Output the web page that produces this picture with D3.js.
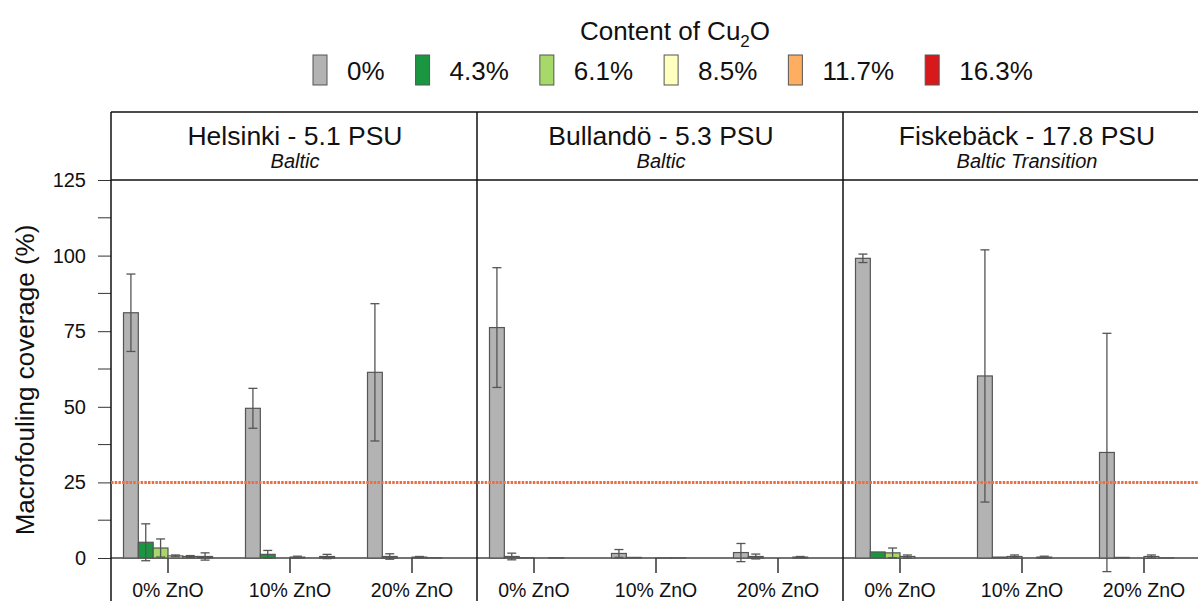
<!DOCTYPE html>
<meta charset="utf-8">
<script src="https://d3js.org/d3.v7.min.js"></script>
<style>
  body { margin: 0; background: #fff; }
  svg { font-family: "Liberation Sans", Arial, sans-serif; display: block; }
</style>
<body>
<div id="chart"></div>
<script>

// chart data
var sites = ["Helsinki - 5.1 PSU", "Bullandö - 5.3 PSU", "Fiskebäck - 17.8 PSU"];
var regions = ["Baltic", "Baltic", "Baltic Transition"];
var znoLevels = ["0% ZnO", "10% ZnO", "20% ZnO"];
var cuLevels = ["0%", "4.3%", "6.1%", "8.5%", "11.7%", "16.3%"];
var cuColors = ["#b3b3b3", "#1a9641", "#a6d96a", "#ffffbf", "#fdae61", "#d7191c"];
var yTicks = [0, 25, 50, 75, 100, 125];
var threshold = 25;

// mean coverage per site -> ZnO level -> Cu2O level
var helsinkiMean = [[81.1, 5.2, 3.3, 0.7, 0.5, 0.5], [49.5, 1.2, 0, 0.3, 0, 0.5], [61.4, 0.5, 0, 0.3, 0.1, 0]];
var helsinkiSd   = [[12.8, 6.1, 3.0, 0.3, 0.3, 1.2], [6.6, 1.3, 0, 0.3, 0, 0.7], [22.7, 0.9, 0, 0.2, 0, 0]];
var bullandoMean = [[76.2, 0.5, 0.1, 0, 0.1, 0], [1.5, 0.2, 0, 0.05, 0.05, 0], [1.8, 0.5, 0, 0, 0.3, 0]];
var bullandoSd   = [[19.8, 1.1, 0, 0, 0, 0], [1.3, 0, 0, 0, 0, 0], [3.0, 0.8, 0, 0, 0.2, 0]];
var fiskebackMean = [[99.1, 2.0, 1.7, 0.5, 0, 0], [60.2, 0.3, 0.5, 0, 0.3, 0], [34.9, 0.2, 0, 0.5, 0.05, 0]];
var fiskebackSd   = [[1.4, 0, 1.6, 0.5, 0, 0], [41.7, 0, 0.5, 0, 0.3, 0], [39.4, 0, 0, 0.5, 0, 0]];

var means = [helsinkiMean, bullandoMean, fiskebackMean];
var sds = [helsinkiSd, bullandoSd, fiskebackSd];

var W = 1198, H = 601;
var plotLeft = 111, frameTop = 112, stripH = 68, panelW = 366;
var plotTop = frameTop + stripH, plotBottom = 558;

var svg = d3.select("#chart").append("svg")
    .attr("width", W).attr("height", H);

var y = d3.scaleLinear().domain([0, 125]).range([plotBottom, plotTop]);

// panels
var px = d3.scaleBand().domain(sites).range([plotLeft, plotLeft + panelW * 3]);
var gx = d3.scaleBand().domain(znoLevels).range([-4, panelW - 4]);
var bx = d3.scaleBand().domain(cuLevels).range([-44.5, 44.5]);

// legend
var legend = svg.append("g");
var title = legend.append("text")
    .attr("x", 675).attr("y", 40)
    .attr("text-anchor", "middle")
    .attr("font-size", 26).attr("fill", "#111");
title.append("tspan").text("Content of Cu");
title.append("tspan").text("2").attr("font-size", 17).attr("dy", 7);
title.append("tspan").text("O").attr("dy", -7);

var lx = 313;
cuLevels.forEach(function(c, i) {
  var item = legend.append("g").attr("transform", "translate(" + lx + ",55)");
  item.append("rect")
      .attr("width", 14).attr("height", 30)
      .attr("fill", cuColors[i])
      .attr("stroke", "#555").attr("stroke-width", 1);
  var t = item.append("text")
      .attr("x", 34).attr("y", 25)
      .attr("font-size", 26).attr("fill", "#111")
      .text(c);
  lx += 34 + t.node().getComputedTextLength() + 31;
});

// y axis
var yAxis = svg.append("g")
    .attr("transform", "translate(" + plotLeft + ",0)")
    .call(d3.axisLeft(y).tickValues(yTicks).tickSize(13).tickPadding(12));
yAxis.select(".domain").remove();
yAxis.selectAll(".tick line").attr("stroke", "#333");
yAxis.selectAll(".tick text").attr("font-size", 20).attr("fill", "#111")
    .attr("font-family", "Liberation Sans, Arial, sans-serif");
// minor ticks
yAxis.selectAll(".minor").data(d3.range(12.5, 125, 25)).enter().append("line")
    .attr("x1", -13).attr("x2", 0)
    .attr("y1", function(d) { return y(d); }).attr("y2", function(d) { return y(d); })
    .attr("stroke", "#333");

svg.append("text")
    .attr("transform", "translate(34,380) rotate(-90)")
    .attr("text-anchor", "middle")
    .attr("font-size", 26).attr("fill", "#111")
    .text("Macrofouling coverage (%)");

// each panel
sites.forEach(function(site, s) {
  var g = svg.append("g").attr("transform", "translate(" + px(site) + ",0)");

  // strip
  g.append("text")
      .attr("x", panelW / 2 + 1).attr("y", 145)
      .attr("text-anchor", "middle").attr("font-size", 26.5).attr("fill", "#111")
      .text(site);
  g.append("text")
      .attr("x", panelW / 2 + 1).attr("y", 168)
      .attr("text-anchor", "middle").attr("font-size", 20).attr("font-style", "italic")
      .attr("fill", "#111")
      .text(regions[s]);

  // baseline
  g.append("line")
      .attr("x1", 0).attr("x2", panelW)
      .attr("y1", y(0)).attr("y2", y(0))
      .attr("stroke", "#444").attr("stroke-width", 1.5);

  var groups = g.selectAll("g.grp").data(znoLevels).enter().append("g")
      .attr("transform", function(d) { return "translate(" + (gx(d) + gx.bandwidth() / 2) + ",0)"; });

  // group tick + label
  groups.append("line")
      .attr("y1", y(0)).attr("y2", y(0) + 15)
      .attr("stroke", "#333").attr("stroke-width", 1.5);
  groups.append("text")
      .attr("y", 597).attr("text-anchor", "middle")
      .attr("font-size", 19.5).attr("fill", "#111")
      .text(function(d) { return d; });

  groups.each(function(z, zi) {
    var gg = d3.select(this);
    var rows = cuLevels.map(function(c, ci) {
      return { cu: c, ci: ci, m: means[s][zi][ci], sd: sds[s][zi][ci] };
    });
    gg.selectAll("rect").data(rows).enter().append("rect")
        .attr("x", function(d) { return bx(d.cu); })
        .attr("width", bx.bandwidth())
        .attr("y", function(d) { return y(d.m); })
        .attr("height", function(d) { return y(0) - y(d.m); })
        .attr("fill", function(d) { return cuColors[d.ci]; })
        .attr("stroke", "#555").attr("stroke-width", 1.2);

    var err = gg.selectAll("g.err").data(rows.filter(function(d) { return d.sd > 0; }))
        .enter().append("g")
        .attr("transform", function(d) { return "translate(" + (bx(d.cu) + bx.bandwidth() / 2) + ",0)"; })
        .attr("stroke", "#555").attr("stroke-width", 1.3);
    err.append("line")
        .attr("y1", function(d) { return y(d.m - d.sd); })
        .attr("y2", function(d) { return y(d.m + d.sd); });
    err.append("line")
        .attr("x1", -4.5).attr("x2", 4.5)
        .attr("y1", function(d) { return y(d.m + d.sd); })
        .attr("y2", function(d) { return y(d.m + d.sd); });
    err.append("line")
        .attr("x1", -4.5).attr("x2", 4.5)
        .attr("y1", function(d) { return y(d.m - d.sd); })
        .attr("y2", function(d) { return y(d.m - d.sd); });
  });

  // panel border
  g.append("line")
      .attr("x1", 0).attr("x2", 0).attr("y1", frameTop).attr("y2", H)
      .attr("stroke", "#111").attr("stroke-width", 1.5);
});

// strip frame lines
svg.append("line")
    .attr("x1", plotLeft).attr("x2", W).attr("y1", frameTop).attr("y2", frameTop)
    .attr("stroke", "#111").attr("stroke-width", 1.5);
svg.append("line")
    .attr("x1", plotLeft).attr("x2", W).attr("y1", plotTop).attr("y2", plotTop)
    .attr("stroke", "#111").attr("stroke-width", 1.5);

// 25% threshold line
svg.append("line")
    .attr("x1", plotLeft).attr("x2", W)
    .attr("y1", y(threshold)).attr("y2", y(threshold))
    .attr("stroke", "#f26d3d").attr("stroke-width", 3)
    .attr("stroke-dasharray", "2.5,1.2");

</script>
</body>
